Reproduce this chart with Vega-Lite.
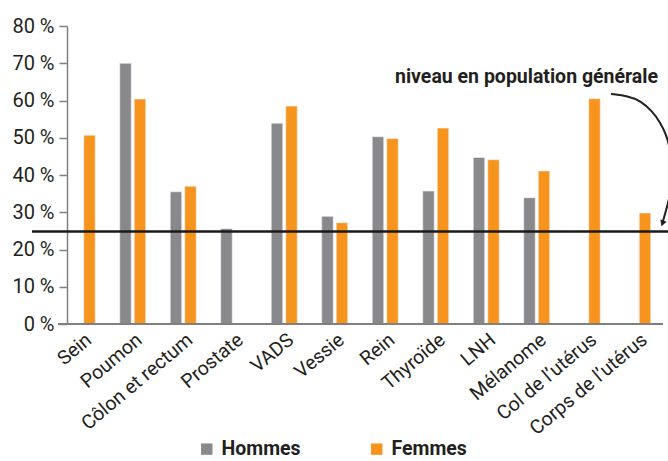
{
  "$schema": "https://vega.github.io/schema/vega-lite/v6.json",
  "width": 636,
  "height": 298,
  "autosize": {"type": "none"},
  "padding": {"left": 32, "top": 26, "right": 0, "bottom": 137},
  "background": "white",
  "config": {
    "view": {"stroke": null},
    "font": "Roboto",
    "axis": {"labelFont": "Roboto", "labelColor": "#231f20"},
    "legend": {"labelFont": "Roboto"}
  },
  "datasets": {
    "main": [
      {"cat": "Sein", "sexe": "Femmes", "val": 50.7},
      {"cat": "Poumon", "sexe": "Hommes", "val": 70.0},
      {"cat": "Poumon", "sexe": "Femmes", "val": 60.4},
      {"cat": "Côlon et rectum", "sexe": "Hommes", "val": 35.5},
      {"cat": "Côlon et rectum", "sexe": "Femmes", "val": 37.0},
      {"cat": "Prostate", "sexe": "Hommes", "val": 25.6},
      {"cat": "VADS", "sexe": "Hommes", "val": 53.9},
      {"cat": "VADS", "sexe": "Femmes", "val": 58.5},
      {"cat": "Vessie", "sexe": "Hommes", "val": 28.9},
      {"cat": "Vessie", "sexe": "Femmes", "val": 27.2},
      {"cat": "Rein", "sexe": "Hommes", "val": 50.3},
      {"cat": "Rein", "sexe": "Femmes", "val": 49.8},
      {"cat": "Thyroïde", "sexe": "Hommes", "val": 35.7},
      {"cat": "Thyroïde", "sexe": "Femmes", "val": 52.6},
      {"cat": "LNH", "sexe": "Hommes", "val": 44.7},
      {"cat": "LNH", "sexe": "Femmes", "val": 44.1},
      {"cat": "Mélanome", "sexe": "Hommes", "val": 33.9},
      {"cat": "Mélanome", "sexe": "Femmes", "val": 41.1},
      {"cat": "Col de l’utérus", "sexe": "Femmes", "val": 60.5},
      {"cat": "Corps de l’utérus", "sexe": "Femmes", "val": 29.8}
    ],
    "arrow": [
      {"step": 1, "u": 10.470, "v": 61.74},
      {"step": 2, "u": 10.807, "v": 61.21},
      {"step": 3, "u": 11.064, "v": 59.87},
      {"step": 4, "u": 11.282, "v": 57.18},
      {"step": 5, "u": 11.440, "v": 54.23},
      {"step": 6, "u": 11.559, "v": 51.01},
      {"step": 7, "u": 11.639, "v": 47.25},
      {"step": 8, "u": 11.678, "v": 42.68},
      {"step": 9, "u": 11.678, "v": 38.12},
      {"step": 10, "u": 11.619, "v": 33.29},
      {"step": 11, "u": 11.540, "v": 29.53},
      {"step": 12, "u": 11.490, "v": 27.2}
    ]
  },
  "layer": [
    {
      "data": {"name": "main"},
      "mark": {"type": "bar", "stroke": "#f4f4f4", "strokeWidth": 0.6},
      "encoding": {
        "x": {
          "field": "cat",
          "type": "nominal",
          "sort": ["Sein", "Poumon", "Côlon et rectum", "Prostate", "VADS", "Vessie", "Rein", "Thyroïde", "LNH", "Mélanome", "Col de l’utérus", "Corps de l’utérus"],
          "scale": {"paddingInner": 0, "paddingOuter": 0.297, "align": 0.833},
          "axis": {
            "title": null,
            "domain": false,
            "ticks": false,
            "labelAngle": -40,
            "labelFontSize": 19.5,
            "labelOffset": 1,
            "labelPadding": 6,
            "labelLimit": 300,
            "labelOverlap": false
          }
        },
        "xOffset": {
          "field": "sexe",
          "type": "nominal",
          "scale": {"domain": ["Hommes", "Femmes"], "paddingInner": 0.207, "paddingOuter": 0.845}
        },
        "y": {
          "field": "val",
          "type": "quantitative",
          "scale": {"domain": [0, 80], "nice": false},
          "axis": {"title": null, "values": [0, 10, 20, 30, 40, 50, 60, 70, 80], "labelExpr": "datum.value + ' %'", "labelOverlap": false, "grid": false, "offset": -35, "tickSize": 8, "tickColor": "#808080", "tickWidth": 1.5, "domainColor": "#808080", "domainWidth": 1.5, "labelFontSize": 20, "labelPadding": 5}
        },
        "color": {
          "field": "sexe",
          "type": "nominal",
          "scale": {"domain": ["Hommes", "Femmes"], "range": ["#88888d", "#f7941d"]},
          "legend": {
            "title": null,
            "orient": "none",
            "direction": "horizontal",
            "legendX": 165,
            "legendY": 413,
            "padding": 0,
            "symbolType": "square",
            "symbolSize": 130,
            "symbolStrokeWidth": 0,
            "symbolOpacity": 1,
            "labelFontSize": 19.5,
            "labelFontWeight": "bold",
            "labelColor": "#231f20",
            "labelOffset": 5,
            "columnPadding": 66
          }
        }
      }
    },
    {
      "data": {"values": [{"u0": -0.48, "u1": 11.5, "z": 0}]},
      "mark": {"type": "rule", "color": "#808080", "strokeWidth": 2},
      "encoding": {
        "x": {"field": "u0", "type": "quantitative", "scale": {"domain": [-0.995, 11.599], "nice": false, "zero": false}, "axis": null},
        "x2": {"field": "u1"},
        "y": {"field": "z", "type": "quantitative", "axis": {"title": null, "values": [0, 10, 20, 30, 40, 50, 60, 70, 80], "labelExpr": "datum.value + ' %'", "labelOverlap": false, "grid": false, "offset": -35, "tickSize": 8, "tickColor": "#808080", "tickWidth": 1.5, "domainColor": "#808080", "domainWidth": 1.5, "labelFontSize": 20, "labelPadding": 5}}
      }
    },
    {
      "data": {"values": [{"ref": 24.8}]},
      "mark": {"type": "rule", "color": "#1a1a1a", "strokeWidth": 2.5},
      "encoding": {
        "y": {"field": "ref", "type": "quantitative", "axis": {"title": null, "values": [0, 10, 20, 30, 40, 50, 60, 70, 80], "labelExpr": "datum.value + ' %'", "labelOverlap": false, "grid": false, "offset": -35, "tickSize": 8, "tickColor": "#808080", "tickWidth": 1.5, "domainColor": "#808080", "domainWidth": 1.5, "labelFontSize": 20, "labelPadding": 5}}
      }
    },
    {
      "data": {"name": "arrow"},
      "mark": {"type": "line", "interpolate": "basis", "color": "#231f20", "strokeWidth": 2},
      "encoding": {
        "x": {"field": "u", "type": "quantitative", "scale": {"domain": [-0.995, 11.599], "nice": false, "zero": false}, "axis": null},
        "y": {"field": "v", "type": "quantitative", "axis": {"title": null, "values": [0, 10, 20, 30, 40, 50, 60, 70, 80], "labelExpr": "datum.value + ' %'", "labelOverlap": false, "grid": false, "offset": -35, "tickSize": 8, "tickColor": "#808080", "tickWidth": 1.5, "domainColor": "#808080", "domainWidth": 1.5, "labelFontSize": 20, "labelPadding": 5}},
        "order": {"field": "step", "type": "quantitative"}
      }
    },
    {
      "data": {"values": [{"u": 11.49, "v": 27.0}]},
      "mark": {"type": "point", "shape": "triangle-down", "filled": true, "color": "#231f20", "size": 45, "angle": 20, "opacity": 1},
      "encoding": {
        "x": {"field": "u", "type": "quantitative", "scale": {"domain": [-0.995, 11.599], "nice": false, "zero": false}, "axis": null},
        "y": {"field": "v", "type": "quantitative", "axis": {"title": null, "values": [0, 10, 20, 30, 40, 50, 60, 70, 80], "labelExpr": "datum.value + ' %'", "labelOverlap": false, "grid": false, "offset": -35, "tickSize": 8, "tickColor": "#808080", "tickWidth": 1.5, "domainColor": "#808080", "domainWidth": 1.5, "labelFontSize": 20, "labelPadding": 5}}
      }
    },
    {
      "data": {"values": [{"u": 11.401, "v": 64.7, "label": "niveau en population générale"}]},
      "mark": {"type": "text", "align": "right", "baseline": "alphabetic", "font": "Roboto", "fontWeight": "bold", "fontSize": 19.5, "color": "#231f20"},
      "encoding": {
        "x": {"field": "u", "type": "quantitative", "scale": {"domain": [-0.995, 11.599], "nice": false, "zero": false}, "axis": null},
        "y": {"field": "v", "type": "quantitative", "axis": {"title": null, "values": [0, 10, 20, 30, 40, 50, 60, 70, 80], "labelExpr": "datum.value + ' %'", "labelOverlap": false, "grid": false, "offset": -35, "tickSize": 8, "tickColor": "#808080", "tickWidth": 1.5, "domainColor": "#808080", "domainWidth": 1.5, "labelFontSize": 20, "labelPadding": 5}},
        "text": {"field": "label"}
      }
    }
  ],
  "resolve": {"scale": {"x": "independent"}}
}
